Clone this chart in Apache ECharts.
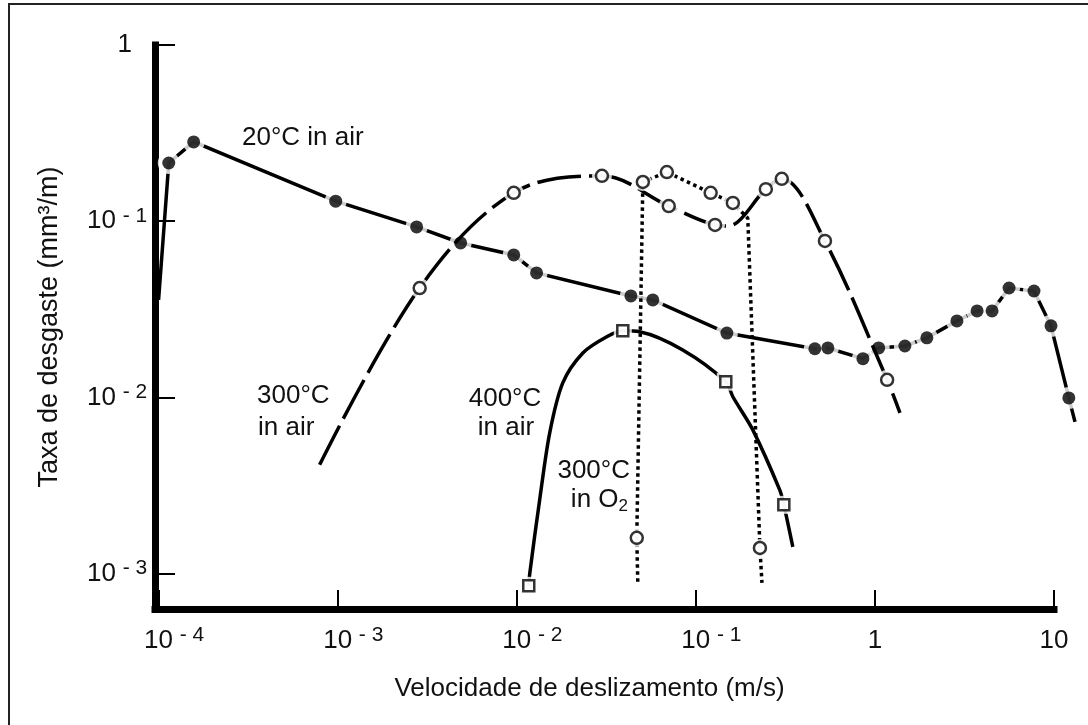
<!DOCTYPE html>
<html>
<head>
<meta charset="utf-8">
<title>Taxa de desgaste</title>
<script src="https://cdn.jsdelivr.net/npm/echarts@6/dist/echarts.min.js"></script>
<style>
  html, body { margin: 0; padding: 0; background: #fff; }
  #chart { width: 1088px; height: 725px; }
</style>
</head>
<body>
<div id="chart"></div>
<script>
// Wear rate (mm³/m) against sliding speed (m/s), log–log, four test conditions.
// Each curve: traced points [speed, wear rate]; the "Marked" lists give the
// indices of the measured points that carry a symbol.

const air20 = [
  [1.0e-4, 0.0358], [1.14e-4, 0.214], [1.57e-4, 0.282], [9.75e-4, 0.130],
  [2.76e-3, 0.0929], [4.86e-3, 0.0753], [9.62e-3, 0.0644], [1.29e-2, 0.0509],
  [4.34e-2, 0.0377], [5.75e-2, 0.0358], [0.149, 0.0232], [0.462, 0.0189],
  [0.546, 0.0191], [0.857, 0.0166], [1.05, 0.0191], [1.47, 0.0196],
  [1.95, 0.0218], [2.87, 0.0272], [3.72, 0.0310], [4.51, 0.0310],
  [5.61, 0.0418], [7.73, 0.0402], [9.62, 0.0255], [12.1, 0.00995],
  [13.1, 0.00727]
];
const air20Marked = [1, 2, 3, 4, 5, 6, 7, 8, 9, 10, 11, 12, 13, 14, 15, 16,
                     17, 18, 19, 20, 21, 22, 23];

const air300 = [
  [7.93e-4, 0.00415], [2.87e-3, 0.0418], [9.62e-3, 0.145], [2.99e-2, 0.181],
  [7.06e-2, 0.122], [0.128, 0.0953], [0.151, 0.094], [0.246, 0.152],
  [0.302, 0.174], [0.526, 0.0773], [1.17, 0.0126], [1.38, 0.00818]
];
const air300Marked = [1, 2, 3, 4, 5, 7, 8, 9, 10];

const air400 = [
  [0.01167, 0.000854], [0.01183, 0.00101], [0.01343, 0.00263], [0.01528, 0.0063],
  [0.01807, 0.0121], [0.0234, 0.0179], [0.0318, 0.0221], [0.0391, 0.0239],
  [0.0486, 0.0236], [0.0845, 0.0186], [0.147, 0.0123], [0.161, 0.0101],
  [0.208, 0.00655], [0.294, 0.00299], [0.310, 0.00246], [0.348, 0.00142]
];
const air400Marked = [0, 7, 10, 14];

const oxy300 = [
  [0.0474, 0.0009], [0.0468, 0.0016], [0.0506, 0.167], [0.0689, 0.190],
  [0.121, 0.145], [0.161, 0.127], [0.195, 0.104], [0.228, 0.0014],
  [0.234, 0.000888]
];
const oxy300Marked = [1, 2, 3, 4, 5, 7];

const xTickValues = [1e-4, 1e-3, 1e-2, 1e-1, 1, 10];
const xTickText = [['10', '- 4'], ['10', '- 3'], ['10', '- 2'], ['10', '- 1'], ['1', ''], ['10', '']];
const yTickValues = [1e-3, 1e-2, 1e-1, 1];
const yTickText = [['10', '- 3'], ['10', '- 2'], ['10', '- 1'], ['1', '']];

const xTitle = 'Velocidade de deslizamento (m/s)';
const yTitle = 'Taxa de desgaste (mm³/m)';

const TICK_FONT = "'Liberation Sans Narrow', 'Liberation Sans', Arial, sans-serif";
const TEXT_FONT = "'Liberation Sans', Arial, sans-serif";
const INK = '#111';

function findTick(values, v) {
  return values.findIndex(t => Math.abs(Math.log10(t) - Math.log10(v)) < 1e-6);
}

const tickRich = {
  b: { fontFamily: TICK_FONT, fontSize: 26, lineHeight: 32, color: INK },
  e: { fontFamily: TICK_FONT, fontSize: 21, lineHeight: 6, verticalAlign: 'top',
       width: 24, align: 'left', padding: [0, 0, 0, 7], color: INK },
  p: { width: 31 },
  q: { width: 15 }
};

// Line part of a curve. The 20 °C curve runs a little past the end of the
// speed axis, so it is drawn as an unclipped polyline in a custom series.
function lineSeries(pts, o) {
  if (o.overrun) {
    return {
      type: 'custom', coordinateSystem: 'cartesian2d', data: pts, clip: false,
      silent: true, z: o.z,
      renderItem: (params, api) => params.dataIndex !== 0 ? null : {
        type: 'polyline',
        shape: { points: pts.map(p => api.coord(p)) },
        style: { stroke: '#000', lineWidth: o.width, fill: null, lineDash: o.dash === 'solid' ? null : o.dash }
      }
    };
  }
  return {
    type: 'line', data: pts, showSymbol: false, symbol: 'none',
    smooth: o.smooth, clip: false, silent: true, z: o.z,
    lineStyle: { color: '#000', width: o.width, type: o.dash, cap: 'butt' }
  };
}

function curveSeries(pts, marked, o) {
  const marks = marked.map(i => pts[i]);
  return [
    lineSeries(pts, o),
    {
      type: 'scatter', data: marks, symbol: o.symbol, symbolSize: o.size + o.gap,
      itemStyle: { color: '#fff' }, clip: false, silent: true, z: o.z + 1
    },
    {
      type: 'scatter', data: marks, symbol: o.symbol, symbolSize: o.size,
      itemStyle: o.filled ? { color: '#000' } : { color: '#fff', borderColor: '#000', borderWidth: 2.5 },
      clip: false, silent: true, z: o.z + 2
    }
  ];
}

const notes = [
  { text: '20°C in air', x: 242, y: 138, align: 'left' },
  { text: '300°C', x: 257, y: 396, align: 'left' },
  { text: 'in air', x: 258, y: 428, align: 'left' },
  { text: '400°C', x: 505, y: 399, align: 'center' },
  { text: 'in air', x: 506, y: 428, align: 'center' },
  { text: '300°C', x: 630, y: 471, align: 'right' }
];

const chart = echarts.init(document.getElementById('chart'), null, { renderer: 'canvas' });

chart.setOption({
  animation: false,
  backgroundColor: '#fff',
  grid: { left: 155, right: 34, top: 45, bottom: 116, containLabel: false, outerBoundsMode: 'none' },
  xAxis: {
    type: 'log', logBase: 10, min: Math.pow(10, -4.02), max: 10,
    splitLine: { show: false },
    axisLine: { lineStyle: { color: '#000', width: 7, cap: 'square' } },
    axisTick: { inside: true, length: 19, customValues: xTickValues, lineStyle: { color: '#000', width: 2 } },
    axisLabel: {
      customValues: xTickValues, margin: 16, color: INK, rich: tickRich,
      formatter: v => {
        const i = findTick(xTickValues, v);
        if (i < 0) return '';
        const [b, e] = xTickText[i];
        return e ? '{p|}{b|' + b + '}{e|' + e + '}' : '{b|' + b + '}';
      }
    },
    name: xTitle, nameLocation: 'middle', nameGap: 67,
    nameTextStyle: { fontFamily: TEXT_FONT, fontSize: 26, color: INK, padding: [0, 30, 0, 0] }
  },
  yAxis: {
    type: 'log', logBase: 10, min: Math.pow(10, -3.2), max: 1,
    splitLine: { show: false },
    axisLine: { lineStyle: { color: '#000', width: 7, cap: 'square' } },
    axisTick: { inside: true, length: 20, customValues: yTickValues, lineStyle: { color: '#000', width: 2 } },
    axisLabel: {
      customValues: yTickValues, margin: 8, color: INK, rich: tickRich,
      formatter: v => {
        const i = findTick(yTickValues, v);
        if (i < 0) return '';
        const [b, e] = yTickText[i];
        return e ? '{b|' + b + '}{e|' + e + '}' : '{b|' + b + '}{q|}';
      }
    },
    name: yTitle, nameLocation: 'middle', nameGap: 92,
    nameTextStyle: { fontFamily: TEXT_FONT, fontSize: 27, color: INK }
  },
  series: [].concat(
    curveSeries(air20, air20Marked, { overrun: true, width: 3.5, dash: 'solid', symbol: 'circle', size: 13, gap: 9, filled: true, z: 10 }),
    curveSeries(air300, air300Marked, { smooth: 0.35, width: 3.5, dash: [44, 8], symbol: 'circle', size: 12, gap: 8, filled: false, z: 20 }),
    curveSeries(air400, air400Marked, { smooth: 0.3, width: 3.5, dash: 'solid', symbol: 'rect', size: 11, gap: 7, filled: false, z: 30 }),
    curveSeries(oxy300, oxy300Marked, { smooth: false, width: 3.5, dash: [3.5, 3.5], symbol: 'circle', size: 12, gap: 6, filled: false, z: 40 })
  ),
  graphic: [
    {
      type: 'rect', silent: true, z: 0,
      shape: { x: 9, y: 4, width: 1200, height: 1200 },
      style: { fill: 'none', stroke: '#222', lineWidth: 2 }
    }
  ].concat(notes.map(n => ({
    type: 'text', x: n.x, y: n.y, z: 100, silent: true,
    style: { text: n.text, fill: INK, fontFamily: TEXT_FONT, fontSize: 26,
             align: n.align, verticalAlign: 'middle' }
  }))).concat([{
    type: 'text', x: 628, y: 500, z: 100, silent: true,
    style: {
      text: '{a|in O}{s|2}', align: 'right', verticalAlign: 'middle',
      rich: {
        a: { fontFamily: TEXT_FONT, fontSize: 26, lineHeight: 30, fill: INK, color: INK },
        s: { fontFamily: TEXT_FONT, fontSize: 17, lineHeight: 6, verticalAlign: 'bottom', fill: INK, color: INK }
      }
    }
  }])
});
</script>
</body>
</html>
